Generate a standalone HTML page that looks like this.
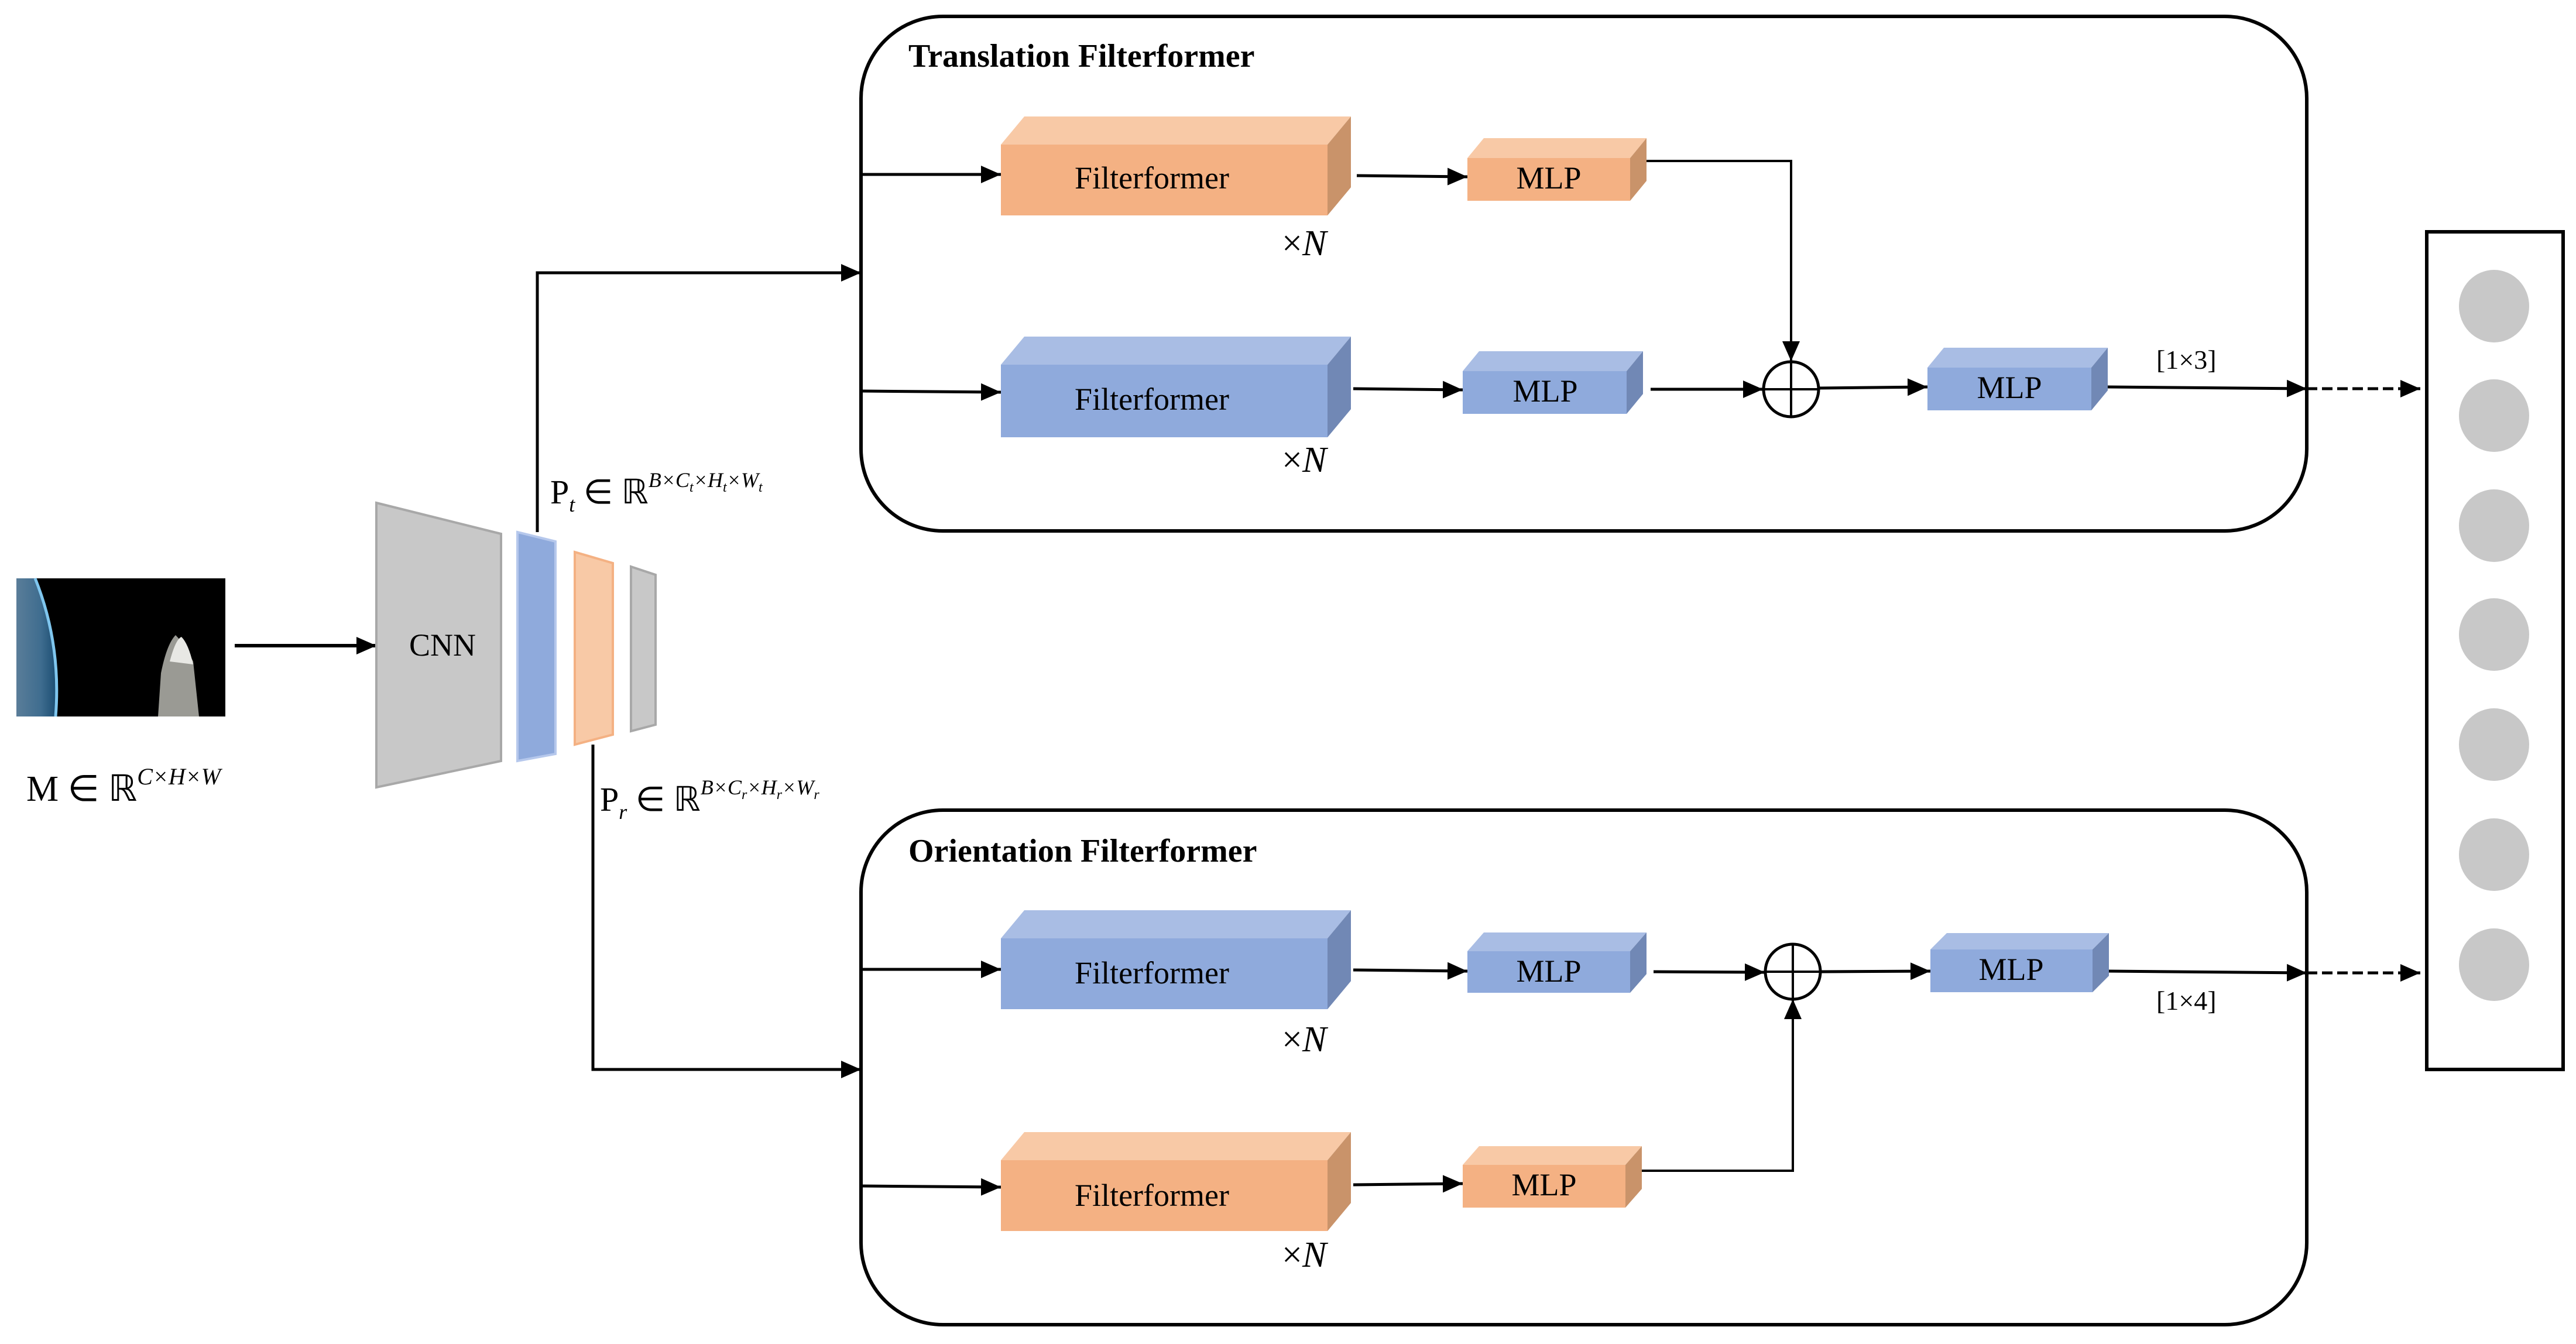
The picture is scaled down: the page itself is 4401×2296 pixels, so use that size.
<!DOCTYPE html>
<html><head><meta charset="utf-8"><style>
html,body{margin:0;padding:0;background:#fff}
svg{display:block}
</style></head><body>
<svg width="4401" height="2296" viewBox="0 0 4401 2296" xmlns="http://www.w3.org/2000/svg" font-family="'Liberation Serif','DejaVu Serif',serif">
<defs>
<marker id="a2" viewBox="0 0 10 10" refX="10" refY="5" markerWidth="34" markerHeight="30" markerUnits="userSpaceOnUse" orient="auto" preserveAspectRatio="none"><path d="M0,0 L10,5 L0,10 z" fill="#000"/></marker>
<linearGradient id="earth" x1="0" x2="1"><stop offset="0" stop-color="#5a7d99"/><stop offset="0.6" stop-color="#3f6d8f"/><stop offset="1" stop-color="#1b4d72"/></linearGradient>
</defs>

<rect x="1471" y="28" width="2470" height="879" rx="140" fill="none" stroke="#000" stroke-width="6"/>
<rect x="1471" y="1384" width="2470" height="879" rx="140" fill="none" stroke="#000" stroke-width="6"/>
<text x="1552" y="114" font-size="56" font-weight="bold" font-family="'Liberation Serif',serif">Translation Filterformer</text>
<text x="1552" y="1472" font-size="56" font-weight="bold" font-family="'Liberation Serif',serif">Orientation Filterformer</text>

<rect x="28" y="988" width="357" height="236" fill="#000"/>
<path d="M28,988 L60,988 Q105,1100 95,1224 L28,1224 z" fill="url(#earth)"/>
<path d="M60,988 Q105,1100 95,1224" fill="none" stroke="#7fc6ee" stroke-width="5"/>
<path d="M300,1085 Q315,1100 330,1130 L340,1224 L270,1224 L275,1150 Q285,1100 300,1085z" fill="#9a9a94"/>
<path d="M290,1130 Q300,1092 310,1088 Q322,1100 330,1135 z" fill="#e8e8e4"/>
<text x="45" y="1368" font-size="62" font-family="'Liberation Serif',serif">M ∈ ℝ<tspan font-size="40" font-style="italic" dy="-28">C×H×W</tspan></text>
<line x1="401" y1="1103" x2="643" y2="1103" stroke="#000" stroke-width="6" marker-end="url(#a2)"/>

<polygon points="643,859 856,912 856,1300 643,1345" fill="#c8c8c8" stroke="#a8a8a8" stroke-width="4"/>
<text x="756" y="1120" font-size="54" text-anchor="middle" font-family="'Liberation Serif',serif">CNN</text>
<polygon points="884,909 949,925 949,1288 884,1300" fill="#8faadc" stroke="#b6c8ec" stroke-width="4"/>
<polygon points="982,943 1047,962 1047,1255 982,1272" fill="#f8c9a6" stroke="#f4b183" stroke-width="4"/>
<polygon points="1078,968 1120,982 1120,1238 1078,1249" fill="#c8c8c8" stroke="#a8a8a8" stroke-width="4"/>

<text x="940" y="860" font-size="58" font-family="'Liberation Serif',serif">P<tspan font-size="36" font-style="italic" dy="14">t</tspan><tspan dy="-14"> ∈ ℝ</tspan><tspan font-size="36" font-style="italic" dy="-28">B×C</tspan><tspan font-size="24" font-style="italic" dy="8">t</tspan><tspan font-size="36" font-style="italic" dy="-8">×H</tspan><tspan font-size="24" font-style="italic" dy="8">t</tspan><tspan font-size="36" font-style="italic" dy="-8">×W</tspan><tspan font-size="24" font-style="italic" dy="8">t</tspan></text>
<text x="1025" y="1385" font-size="58" font-family="'Liberation Serif',serif">P<tspan font-size="36" font-style="italic" dy="14">r</tspan><tspan dy="-14"> ∈ ℝ</tspan><tspan font-size="36" font-style="italic" dy="-28">B×C</tspan><tspan font-size="24" font-style="italic" dy="8">r</tspan><tspan font-size="36" font-style="italic" dy="-8">×H</tspan><tspan font-size="24" font-style="italic" dy="8">r</tspan><tspan font-size="36" font-style="italic" dy="-8">×W</tspan><tspan font-size="24" font-style="italic" dy="8">r</tspan></text>

<polyline points="918,909 918,466 1471,466" fill="none" stroke="#000" stroke-width="5" marker-end="url(#a2)"/>
<polyline points="1013,1272 1013,1827 1471,1827" fill="none" stroke="#000" stroke-width="5" marker-end="url(#a2)"/>

<g font-family="'Liberation Serif',serif">
<line x1="1471" y1="298" x2="1710" y2="298" stroke="#000" stroke-width="5" marker-end="url(#a2)"/>
<polygon points="1710,247 1750,199 2308,199 2268,247" fill="#f8c9a6"/>
<polygon points="2268,247 2308,199 2308,320 2268,368" fill="#c9936a"/>
<rect x="1710" y="247" width="558" height="121" fill="#f4b183"/>
<text x="1968" y="322" font-size="54" text-anchor="middle">Filterformer</text>
<text x="2190" y="436" font-size="62">×<tspan font-style="italic">N</tspan></text>
<line x1="2318" y1="300" x2="2507" y2="302" stroke="#000" stroke-width="5" marker-end="url(#a2)"/>
<polygon points="2507,270 2535,236 2813,236 2785,270" fill="#f8c9a6"/>
<polygon points="2785,270 2813,236 2813,309 2785,343" fill="#c9936a"/>
<rect x="2507" y="270" width="278" height="73" fill="#f4b183"/>
<text x="2646" y="322" font-size="54" text-anchor="middle">MLP</text>
<polyline points="2813,275 3060,275 3060,617" fill="none" stroke="#000" stroke-width="4" marker-end="url(#a2)"/>

<line x1="1471" y1="668" x2="1710" y2="670" stroke="#000" stroke-width="5" marker-end="url(#a2)"/>
<polygon points="1710,623 1750,575 2308,575 2268,623" fill="#a9bde4"/>
<polygon points="2268,623 2308,575 2308,699 2268,747" fill="#7188b5"/>
<rect x="1710" y="623" width="558" height="124" fill="#8faadc"/>
<text x="1968" y="700" font-size="54" text-anchor="middle">Filterformer</text>
<text x="2190" y="806" font-size="62">×<tspan font-style="italic">N</tspan></text>
<line x1="2312" y1="664" x2="2499" y2="666" stroke="#000" stroke-width="5" marker-end="url(#a2)"/>
<polygon points="2499,634 2527,600 2807,600 2779,634" fill="#a9bde4"/>
<polygon points="2779,634 2807,600 2807,673 2779,707" fill="#7188b5"/>
<rect x="2499" y="634" width="280" height="73" fill="#8faadc"/>
<text x="2640" y="686" font-size="54" text-anchor="middle">MLP</text>
<line x1="2820" y1="665" x2="3012" y2="665" stroke="#000" stroke-width="5" marker-end="url(#a2)"/>
<circle cx="3060" cy="665" r="47" fill="none" stroke="#000" stroke-width="5"/>
<line x1="3013" y1="665" x2="3107" y2="665" stroke="#000" stroke-width="4"/>
<line x1="3060" y1="618" x2="3060" y2="712" stroke="#000" stroke-width="4"/>
<line x1="3107" y1="663" x2="3293" y2="661" stroke="#000" stroke-width="5" marker-end="url(#a2)"/>
<polygon points="3293,628 3321,594 3601,594 3573,628" fill="#a9bde4"/>
<polygon points="3573,628 3601,594 3601,667 3573,701" fill="#7188b5"/>
<rect x="3293" y="628" width="280" height="73" fill="#8faadc"/>
<text x="3433" y="680" font-size="54" text-anchor="middle">MLP</text>
<text x="3684" y="630" font-size="46">[1×3]</text>
<line x1="3601" y1="661" x2="3941" y2="664" stroke="#000" stroke-width="5" marker-end="url(#a2)"/>
<line x1="3941" y1="664" x2="4135" y2="664" stroke="#000" stroke-width="5" stroke-dasharray="18,8" marker-end="url(#a2)"/>

<line x1="1471" y1="1656" x2="1710" y2="1656" stroke="#000" stroke-width="5" marker-end="url(#a2)"/>
<polygon points="1710,1603 1750,1555 2308,1555 2268,1603" fill="#a9bde4"/>
<polygon points="2268,1603 2308,1555 2308,1676 2268,1724" fill="#7188b5"/>
<rect x="1710" y="1603" width="558" height="121" fill="#8faadc"/>
<text x="1968" y="1680" font-size="54" text-anchor="middle">Filterformer</text>
<text x="2190" y="1796" font-size="62">×<tspan font-style="italic">N</tspan></text>
<line x1="2312" y1="1657" x2="2507" y2="1659" stroke="#000" stroke-width="5" marker-end="url(#a2)"/>
<polygon points="2507,1625 2535,1593 2813,1593 2785,1625" fill="#a9bde4"/>
<polygon points="2785,1625 2813,1593 2813,1664 2785,1696" fill="#7188b5"/>
<rect x="2507" y="1625" width="278" height="71" fill="#8faadc"/>
<text x="2646" y="1677" font-size="54" text-anchor="middle">MLP</text>
<line x1="2825" y1="1660" x2="3015" y2="1661" stroke="#000" stroke-width="5" marker-end="url(#a2)"/>
<circle cx="3063" cy="1660" r="47" fill="none" stroke="#000" stroke-width="5"/>
<line x1="3016" y1="1660" x2="3110" y2="1660" stroke="#000" stroke-width="4"/>
<line x1="3063" y1="1613" x2="3063" y2="1707" stroke="#000" stroke-width="4"/>
<line x1="3110" y1="1660" x2="3298" y2="1659" stroke="#000" stroke-width="5" marker-end="url(#a2)"/>
<polygon points="3298,1622 3326,1594 3603,1594 3575,1622" fill="#a9bde4"/>
<polygon points="3575,1622 3603,1594 3603,1667 3575,1695" fill="#7188b5"/>
<rect x="3298" y="1622" width="277" height="73" fill="#8faadc"/>
<text x="3436" y="1674" font-size="54" text-anchor="middle">MLP</text>
<text x="3684" y="1725" font-size="46">[1×4]</text>
<line x1="3603" y1="1659" x2="3941" y2="1662" stroke="#000" stroke-width="5" marker-end="url(#a2)"/>
<line x1="3941" y1="1662" x2="4135" y2="1662" stroke="#000" stroke-width="5" stroke-dasharray="18,8" marker-end="url(#a2)"/>

<line x1="1471" y1="2026" x2="1710" y2="2028" stroke="#000" stroke-width="5" marker-end="url(#a2)"/>
<polygon points="1710,1982 1750,1934 2308,1934 2268,1982" fill="#f8c9a6"/>
<polygon points="2268,1982 2308,1934 2308,2055 2268,2103" fill="#c9936a"/>
<rect x="1710" y="1982" width="558" height="121" fill="#f4b183"/>
<text x="1968" y="2060" font-size="54" text-anchor="middle">Filterformer</text>
<text x="2190" y="2164" font-size="62">×<tspan font-style="italic">N</tspan></text>
<line x1="2312" y1="2024" x2="2499" y2="2022" stroke="#000" stroke-width="5" marker-end="url(#a2)"/>
<polygon points="2499,1990 2527,1958 2805,1958 2777,1990" fill="#f8c9a6"/>
<polygon points="2777,1990 2805,1958 2805,2031 2777,2063" fill="#c9936a"/>
<rect x="2499" y="1990" width="278" height="73" fill="#f4b183"/>
<text x="2638" y="2042" font-size="54" text-anchor="middle">MLP</text>
<polyline points="2805,2000 3063,2000 3063,1707" fill="none" stroke="#000" stroke-width="4" marker-end="url(#a2)"/>
</g>

<rect x="4146" y="396" width="233" height="1431" fill="#fff" stroke="#000" stroke-width="6"/>
<g fill="#c8c8c8">
<ellipse cx="4261" cy="523" rx="60" ry="62"/>
<ellipse cx="4261" cy="710" rx="60" ry="62"/>
<ellipse cx="4261" cy="898" rx="60" ry="62"/>
<ellipse cx="4261" cy="1084" rx="60" ry="62"/>
<ellipse cx="4261" cy="1272" rx="60" ry="62"/>
<ellipse cx="4261" cy="1460" rx="60" ry="62"/>
<ellipse cx="4261" cy="1648" rx="60" ry="62"/>
</g>
</svg>
</body></html>
